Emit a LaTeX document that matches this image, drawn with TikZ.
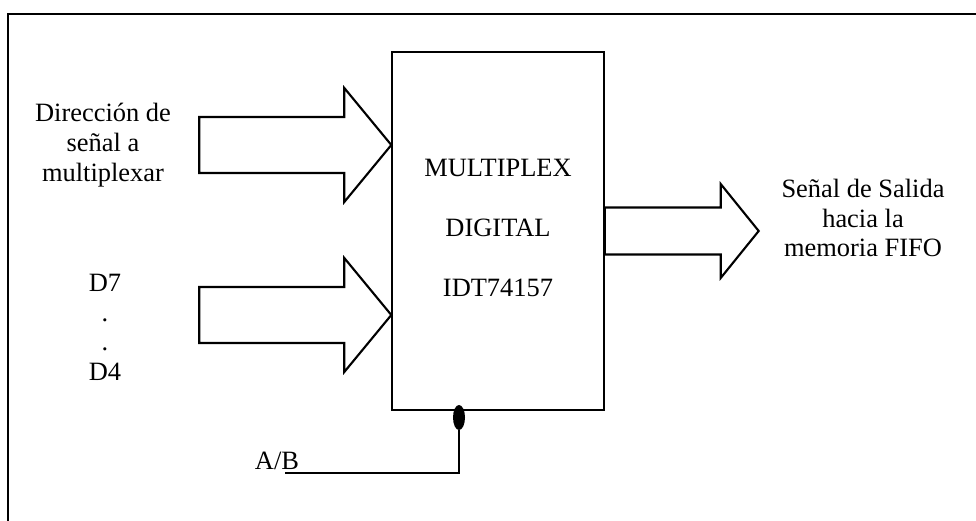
\documentclass[tikz,border=0pt]{standalone}
\usepackage{fontspec}
\setmainfont{Liberation Serif}
\usepackage{tikz}
\usetikzlibrary{shapes.geometric, positioning, calc}
\tikzset{
	muxbox/.style  ={rectangle, draw=black, line width=1pt, minimum width=5.3cm, minimum height=8.95cm, inner sep=0pt},
	lbl/.style     ={align=center, inner sep=0pt, font=\fontsize{18.8}{21.3}\selectfont},
	fatarrow/.style={draw=black, line width=1.5pt, line join=miter},
	selpin/.style  ={ellipse, fill=black, minimum width=0.3cm, minimum height=0.625cm, inner sep=0pt},
	wire/.style    ={line width=1.3pt},
	frameline/.style={line width=1.1pt},
}
% tip, length, shaft half width, head half width, head length
\newcommand{\bigarrow}[5]{%
	\draw[fatarrow] (#1) -- ++({-#5},{#4}) -- ++(0,{#3-#4}) -- ++({#5-#2},0) -- ++(0,{-2*#3}) -- ++({#2-#5},0) -- ++(0,{#3-#4}) -- cycle;}

\begin{document}
\begin{tikzpicture}
	\useasboundingbox (0,0) rectangle (24.4,13.025);
	% frame
	\draw[frameline] (0.2,0) |- (24.4,12.675);
	% multiplexer
	\node[muxbox] (mux) at (12.45,7.25) {};
	\node[lbl, font=\fontsize{18.8}{42.7}\selectfont] (muxtxt) at ([yshift=0.075cm]mux.center) {MULTIPLEX\\DIGITAL\\IDT74157};
	% inputs
	\coordinate[above=2.15cm of mux.west] (in1);
	\coordinate[below=2.1cm of mux.west] (in2);
	\bigarrow{in1}{4.8}{0.7}{1.425}{1.175}
	\bigarrow{in2}{4.8}{0.7}{1.425}{1.175}
	\node[lbl] (dirlbl) at (2.575,9.4) {Dirección de\\señal a\\multiplexar};
	\node[lbl] (dlbl) at (2.625,4.84) {D7\\.\\.\\D4};
	% output
	\coordinate[right=3.85cm of mux.east] (out);
	\bigarrow{out}{3.85}{0.5875}{1.175}{0.95}
	\node[lbl] (outlbl) at (21.575,7.575) {Señal de Salida\\hacia la\\memoria FIFO};
	% select
	\node[selpin] (sel) at (11.475,2.5875) {};
	\coordinate (abend) at (7.125,1.2);
	\draw[wire] (sel.south) |- (abend);
	\node[lbl] (ab) at (6.925,1.5) {A/B};
\end{tikzpicture}
\end{document}
